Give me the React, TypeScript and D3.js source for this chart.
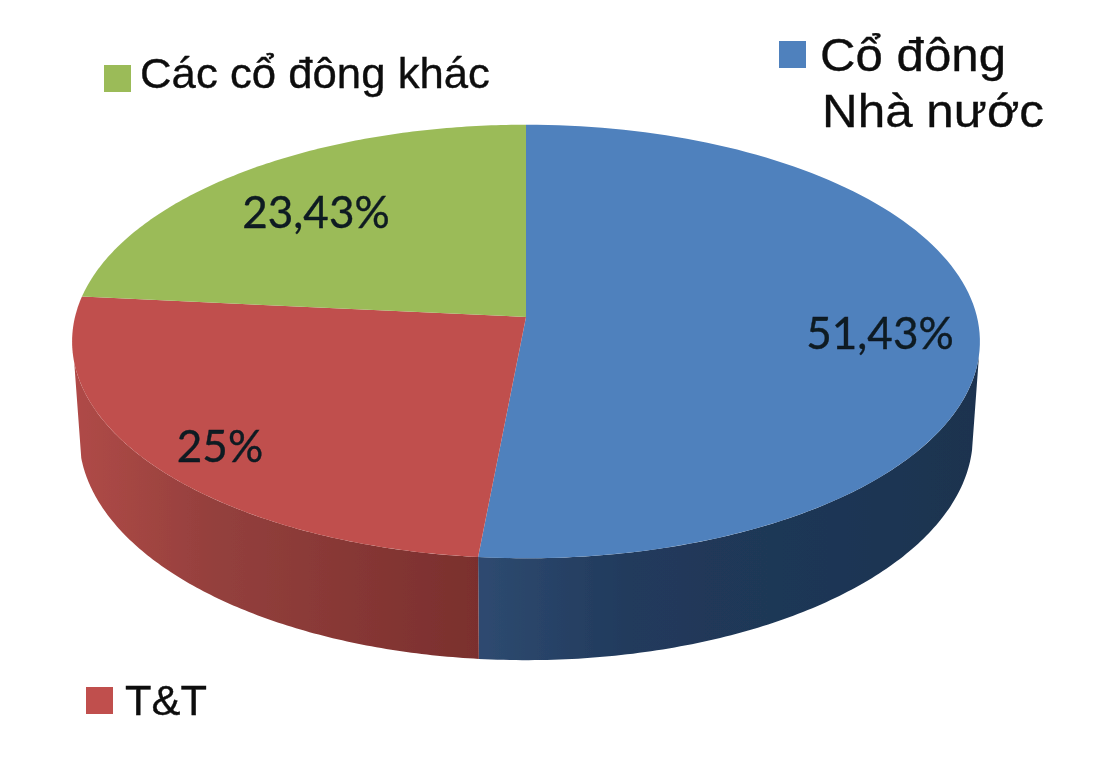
import React from "react";
import * as d3 from "d3";

// ---- data ----
const categories = ["Cổ đông Nhà nước", "T&T", "Các cổ đông khác"];
const shares = [51.43, 25, 23.43];
const shareLabels = ["51,43%", "25%", "23,43%"];
const topColors = ["#4f81bd", "#c0504d", "#9bbb59"];
const legendLines = [["Cổ đông", "Nhà nước"], ["T&T"], ["Các cổ đông khác"]];

// ---- layout ----
const W = 1100, H = 762;
const apex = { x: 526, y: 317 };
const persp = 0.113;
const topPlane = { y: apex.y, sx: 451, sy: 214 };
const basePlane = { y: 411, sx: 444, sy: 221 };
const labelPos = [[880, 349], [220, 462], [316, 228]];
const legendSwatch = [[779, 41], [86, 687], [104, 65]];
const legendText = [[820, 71], [125, 715], [140, 88]];
const legendLead = 56;
const legendFont = [47, 42, 42];
const legendWidths = [[186, 222], [82], [350]];
const wallFrom = (100 / 180) * Math.PI, wallTo = (258 / 180) * Math.PI;

type Plane = { y: number; sx: number; sy: number };
const project = (a: number, p: Plane): [number, number] => {
  const u = Math.sin(a), v = Math.cos(a), w = 1 + persp * v;
  return [apex.x + (p.sx * u) / w, p.y - (p.sy * v) / w];
};

const slices = d3.pie<number>().sort(null)(shares);
const line = d3.line();
const samples = (a0: number, a1: number, p: Plane) =>
  d3.range(0, 121).map((i) => project(a0 + ((a1 - a0) * i) / 120, p));

export default function App() {
  return (
    <svg width={W} height={H} viewBox={`0 0 ${W} ${H}`}
      style={{ position: "absolute", left: 0, top: 0, background: "#fff" }}>
      <defs>
        <linearGradient id="wall0" gradientUnits="userSpaceOnUse" x1={480} x2={980} y1={0} y2={0}>
          <stop offset="0" stopColor="#2e4a70" />
          <stop offset="0.3" stopColor="#213a5c" />
          <stop offset="1" stopColor="#1c334f" />
        </linearGradient>
        <linearGradient id="wall1" gradientUnits="userSpaceOnUse" x1={72} x2={480} y1={0} y2={0}>
          <stop offset="0" stopColor="#b04a47" />
          <stop offset="0.35" stopColor="#94403d" />
          <stop offset="1" stopColor="#7a2f2d" />
        </linearGradient>
        <filter id="soft" x="0" y="0" width="100%" height="100%">
          <feGaussianBlur stdDeviation="0.6" />
        </filter>
      </defs>
      <g filter="url(#soft)">
        {slices.slice(0, 2).map((s, i) => {
          const a0 = Math.max(s.startAngle, wallFrom), a1 = Math.min(s.endAngle, wallTo);
          const pts = [...samples(a0, a1, topPlane), ...samples(a0, a1, basePlane).reverse()];
          return <path key={i} d={line(pts) + "Z"} fill={`url(#wall${i})`} />;
        })}
        {slices.map((s, i) => (
          <path key={i} d={line([[apex.x, apex.y], ...samples(s.startAngle, s.endAngle, topPlane)]) + "Z"}
            fill={topColors[i]} />
        ))}
        {shareLabels.map((t, i) => (
          <text key={t} x={labelPos[i][0]} y={labelPos[i][1]} textAnchor="middle"
            fontFamily="Lato" fontSize={44} fill="#111a22" stroke="#111a22" strokeWidth={0.4}>{t}</text>
        ))}
        {categories.map((c, i) => (
          <g key={c}>
            <rect x={legendSwatch[i][0]} y={legendSwatch[i][1]} width={27} height={27} fill={topColors[i]} />
            {legendLines[i].map((l, j) => (
              <text key={l} x={legendText[i][0] + j * 2} y={legendText[i][1] + j * legendLead}
                textLength={legendWidths[i][j]} lengthAdjust="spacingAndGlyphs"
                fontFamily="Liberation Sans" fontSize={legendFont[i]} fill="#0a0a0a" stroke="#0a0a0a" strokeWidth={0.3}>{l}</text>
            ))}
          </g>
        ))}
      </g>
    </svg>
  );
}
